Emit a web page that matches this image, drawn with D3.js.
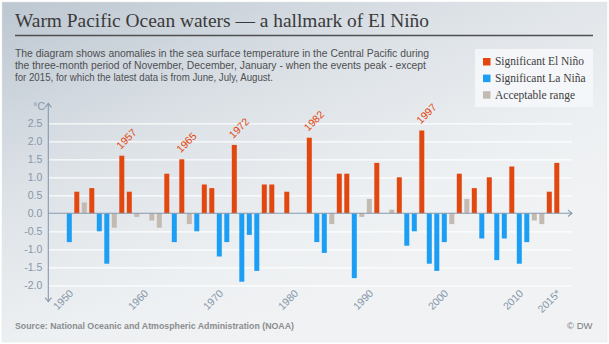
<!DOCTYPE html>
<html>
<head>
<meta charset="utf-8">
<script src="https://cdn.jsdelivr.net/npm/d3@7/dist/d3.min.js"></script>
<style>
  html, body { margin: 0; padding: 0; background: #ffffff; }
  svg { display: block; }
</style>
</head>
<body>
<script>
// ---------- DATA ----------
const years = [1950,1951,1952,1953,1954,1955,1956,1957,1958,1959,
               1960,1961,1962,1963,1964,1965,1966,1967,1968,1969,
               1970,1971,1972,1973,1974,1975,1976,1977,1978,1979,
               1980,1981,1982,1983,1984,1985,1986,1987,1988,1989,
               1990,1991,1992,1993,1994,1995,1996,1997,1998,1999,
               2000,2001,2002,2003,2004,2005,2006,2007,2008,2009,
               2010,2011,2012,2013,2014,2015];
const anomalies = [-0.8, 0.6, 0.3, 0.7,-0.5,-1.4,-0.4, 1.6, 0.6,-0.1,
                    0.0,-0.2,-0.4, 1.1,-0.8, 1.5,-0.3,-0.5, 0.8, 0.7,
                   -1.2,-0.8, 1.9,-1.9,-0.6,-1.6, 0.8, 0.8, 0.0, 0.6,
                    0.0, 0.0, 2.1,-0.8,-1.1,-0.3, 1.1, 1.1,-1.8,-0.1,
                    0.4, 1.4, 0.0, 0.1, 1.0,-0.9,-0.5, 2.3,-1.4,-1.6,
                   -0.8,-0.3, 1.1, 0.4, 0.7,-0.7, 1.0,-1.3,-0.7, 1.3,
                   -1.4,-0.8,-0.2,-0.3, 0.6, 1.4];
const phases = ["nina","nino","range","nino","nina","nina","range","nino","nino","range",
                "range","range","range","nino","nina","nino","range","nina","nino","nino",
                "nina","nina","nino","nina","nina","nina","nino","nino","range","nino",
                "range","range","nino","nina","nina","range","nino","nino","nina","range",
                "range","nino","range","range","nino","nina","nina","nino","nina","nina",
                "nina","range","nino","range","nino","nina","nino","nina","nina","nino",
                "nina","nina","range","range","nino","nino"];
const highlightYears = [1957, 1965, 1972, 1982, 1997];
const yTicks = [-2, -1.5, -1, -0.5, 0, 0.5, 1, 1.5, 2, 2.5];
const xTickYears = [1950, 1960, 1970, 1980, 1990, 2000, 2010, 2015];
const xTickLabels = ["1950", "1960", "1970", "1980", "1990", "2000", "2010", "2015*"];
const legendKeys = ["nino", "nina", "range"];
const legendLabels = ["Significant El Niño", "Significant La Niña", "Acceptable range"];
const titleText = "Warm Pacific Ocean waters — a hallmark of El Niño";
const descLines = [
  "The diagram shows anomalies in the sea surface temperature in the Central Pacific during",
  "the three-month period of November, December, January - when the events peak - except",
  "for 2015, for which the latest data is from June, July, August."
];
const sourceText = "Source: National Oceanic and Atmospheric Administration (NOAA)";
const creditText = "© DW";

// ---------- STYLE ----------
const W = 609, H = 344;
const colors = { nino: "#e2470f", nina: "#1c9ef4", range: "#c3bab2" };
const axisColor = "#8799ad";
const fmt = d3.formatLocale({decimal: ".", thousands: ",", grouping: [3], currency: ["", ""], minus: "-"}).format(".1f");

const svg = d3.select("body").append("svg").attr("width", W).attr("height", H);

const defs = svg.append("defs");
const grad = defs.append("linearGradient").attr("id", "bg")
  .attr("x1", 0).attr("y1", 0).attr("x2", 0.6).attr("y2", 0.85);
grad.append("stop").attr("offset", 0).attr("stop-color", "#bdc7d1");
grad.append("stop").attr("offset", 0.45).attr("stop-color", "#dde2e7");
grad.append("stop").attr("offset", 0.8).attr("stop-color", "#edf0f2");
grad.append("stop").attr("offset", 1).attr("stop-color", "#f0f2f4");

svg.append("rect").attr("x", 2).attr("y", 2).attr("width", W - 4).attr("height", H - 4)
  .attr("fill", "url(#bg)").attr("stroke", "#e2e5e8").attr("stroke-width", 0.5);

// Title
svg.append("text").attr("x", 15).attr("y", 26.5)
  .attr("font-family", "'Liberation Serif', 'DejaVu Serif', serif")
  .attr("font-size", 19).attr("fill", "#3a3a3a")
  .attr("textLength", 414).attr("lengthAdjust", "spacingAndGlyphs")
  .text(titleText);
svg.append("line").attr("x1", 15).attr("x2", 593).attr("y1", 35.5).attr("y2", 35.5)
  .attr("stroke", "#4d4f52").attr("stroke-width", 1.6);

// Description
const descLens = [414, 411, 258];
descLines.forEach((t, i) => {
  svg.append("text").attr("x", 15).attr("y", 56.7 + i * 12.2)
    .attr("font-family", "'Liberation Sans', Arial, sans-serif")
    .attr("font-size", 10.6).attr("fill", "#4e4f51")
    .attr("textLength", descLens[i]).attr("lengthAdjust", "spacingAndGlyphs")
    .text(t);
});

// Legend
const lg = svg.append("g");
lg.append("rect").attr("x", 475).attr("y", 49).attr("width", 118).attr("height", 58)
  .attr("fill", "#f5f7f9").attr("opacity", 0.9);
const legLens = [89, 90.5, 80];
legendKeys.forEach((k, i) => {
  lg.append("rect").attr("x", 483).attr("y", 58 + i * 16.6).attr("width", 7.5).attr("height", 7.5)
    .attr("fill", colors[k]);
  lg.append("text").attr("x", 495).attr("y", 65.3 + i * 16.6)
    .attr("font-family", "'Liberation Serif', 'DejaVu Serif', serif")
    .attr("font-size", 11.8).attr("fill", "#3d3d3d")
    .attr("textLength", legLens[i]).attr("lengthAdjust", "spacingAndGlyphs")
    .text(legendLabels[i]);
});

// Scales
const x = d3.scaleBand().domain(years).range([65.55, 560.55])
  .paddingInner(1 / 3).paddingOuter(1 / 6);
const y = d3.scaleLinear().domain([-2, 2.5]).range([285.3, 123.3]);
const axisX = 48.3, gridL = 49, gridR = 572;

// Gridlines
const grid = svg.append("g").attr("transform", `translate(${gridL},0)`)
  .call(d3.axisLeft(y).tickValues(yTicks.filter(d => d !== 0)).tickSize(-(gridR - gridL)).tickFormat(""));
grid.select(".domain").remove();
grid.selectAll("line").attr("stroke", "#ffffff").attr("stroke-width", 1.3).attr("opacity", 0.9);

// Y axis labels
const ya = svg.append("g").attr("transform", `translate(${axisX},0)`)
  .call(d3.axisLeft(y).tickValues(yTicks).tickSize(0).tickPadding(6).tickFormat(fmt));
ya.select(".domain").remove();
ya.selectAll("text").attr("font-family", "'Liberation Sans', Arial, sans-serif")
  .attr("font-size", 10.5).attr("fill", "#8697aa");

svg.append("text").attr("x", 45).attr("y", 109.5).attr("text-anchor", "end")
  .attr("font-family", "'Liberation Sans', Arial, sans-serif")
  .attr("font-size", 10.5).attr("fill", "#8697aa").text("°C");

// Bars
const data = years.map((yr, i) => ({ year: yr, value: anomalies[i], phase: phases[i] }));
svg.append("g").selectAll("rect").data(data).join("rect")
  .attr("x", d => x(d.year))
  .attr("width", x.bandwidth())
  .attr("y", d => y(Math.max(0, d.value)))
  .attr("height", d => Math.abs(y(d.value) - y(0)))
  .attr("fill", d => colors[d.phase]);

// Zero line + axes lines with arrows
const y0 = y(0);
const axes = svg.append("g").attr("stroke", axisColor).attr("fill", "none").attr("stroke-width", 1.1);
axes.append("line").attr("x1", axisX).attr("x2", gridR).attr("y1", y0).attr("y2", y0);
axes.append("path").attr("d", `M${gridR - 4},${y0 - 3.2}L${gridR},${y0}L${gridR - 4},${y0 + 3.2}`);
const yTop = y(2.5) - 20, yBot = y(-2) + 16.3;
axes.append("line").attr("x1", axisX).attr("x2", axisX).attr("y1", yTop).attr("y2", yBot);
axes.append("path").attr("d", `M${axisX - 3.2},${yTop + 4}L${axisX},${yTop}L${axisX + 3.2},${yTop + 4}`);
axes.append("path").attr("d", `M${axisX - 3.2},${yBot - 4}L${axisX},${yBot}L${axisX + 3.2},${yBot - 4}`);

// X axis labels
const xa = svg.append("g").attr("transform", "translate(0,294)")
  .call(d3.axisBottom(x).tickValues(xTickYears).tickSize(0)
    .tickFormat(d => xTickLabels[xTickYears.indexOf(d)]));
xa.select(".domain").remove();
xa.selectAll("text")
  .attr("x", 0).attr("y", 0).attr("dy", 0)
  .attr("text-anchor", "end")
  .attr("transform", "translate(4.7,0) rotate(-45)")
  .attr("font-family", "'Liberation Sans', Arial, sans-serif")
  .attr("font-size", 10.5).attr("fill", "#8697aa");

// Highlight year labels
svg.append("g").selectAll("text").data(data.filter(d => highlightYears.includes(d.year))).join("text")
  .attr("transform", d => `translate(${x(d.year) + x.bandwidth() / 2 - 1},${y(d.value) - 6}) rotate(-45)`)
  .attr("text-anchor", "start")
  .attr("font-family", "'Liberation Sans', Arial, sans-serif")
  .attr("font-size", 10.5).attr("fill", "#e2470f")
  .text(d => d.year);

// Footer
svg.append("text").attr("x", 15).attr("y", 329)
  .attr("font-family", "'Liberation Sans', Arial, sans-serif").attr("font-weight", "bold")
  .attr("font-size", 9.2).attr("fill", "#8b8d8f")
  .attr("textLength", 279).attr("lengthAdjust", "spacingAndGlyphs")
  .text(sourceText);
svg.append("text").attr("x", 592.5).attr("y", 329).attr("text-anchor", "end")
  .attr("font-family", "'Liberation Sans', Arial, sans-serif")
  .attr("font-size", 9.5).attr("fill", "#7a7c7e")
  .text(creditText);
</script>
</body>
</html>
